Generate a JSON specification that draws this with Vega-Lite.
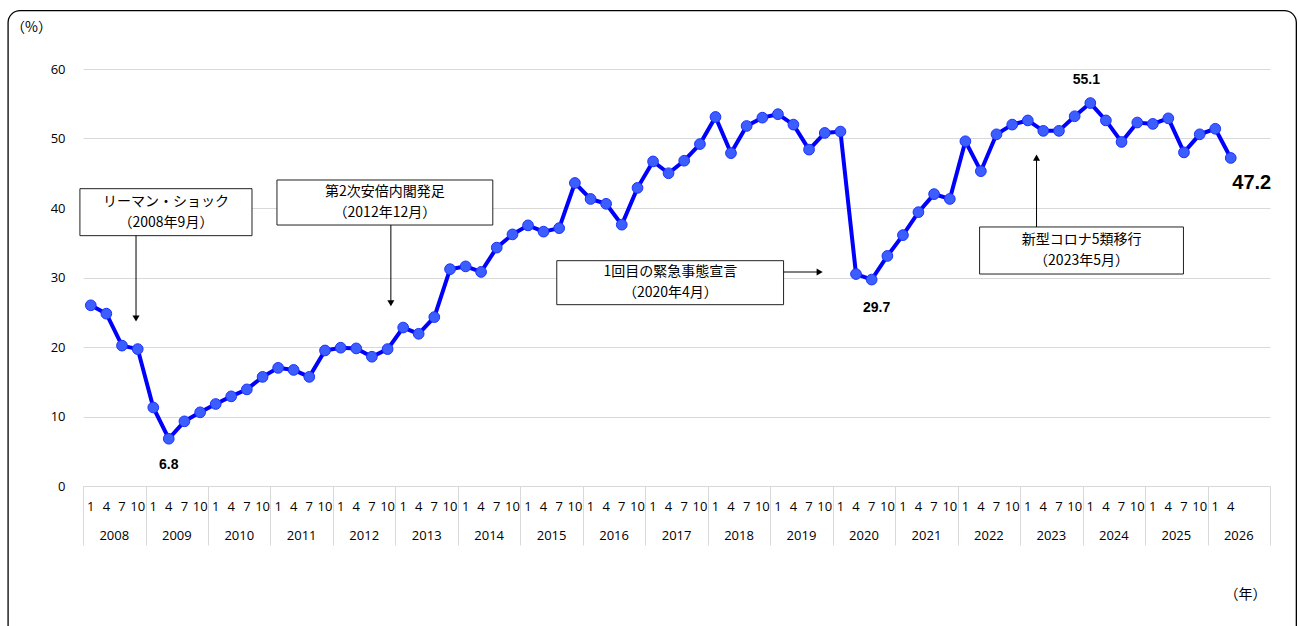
{
  "$schema": "https://vega.github.io/schema/vega-lite/v6.json",
  "width": 1187,
  "height": 417,
  "autosize": {"type": "none"},
  "padding": {"left": 83, "top": 69, "right": 28, "bottom": 140},
  "background": "white",
  "config": {"view": {"stroke": null}, "font": "Open Sans"},
  "datasets": {
    "main": [
      {"d": "2008-01-01", "v": 26.0}, {"d": "2008-04-01", "v": 24.8}, {"d": "2008-07-01", "v": 20.2}, {"d": "2008-10-01", "v": 19.7},
      {"d": "2009-01-01", "v": 11.3}, {"d": "2009-04-01", "v": 6.8}, {"d": "2009-07-01", "v": 9.3}, {"d": "2009-10-01", "v": 10.6},
      {"d": "2010-01-01", "v": 11.8}, {"d": "2010-04-01", "v": 12.9}, {"d": "2010-07-01", "v": 13.9}, {"d": "2010-10-01", "v": 15.7},
      {"d": "2011-01-01", "v": 17.0}, {"d": "2011-04-01", "v": 16.7}, {"d": "2011-07-01", "v": 15.7}, {"d": "2011-10-01", "v": 19.5},
      {"d": "2012-01-01", "v": 19.9}, {"d": "2012-04-01", "v": 19.8}, {"d": "2012-07-01", "v": 18.6}, {"d": "2012-10-01", "v": 19.7},
      {"d": "2013-01-01", "v": 22.8}, {"d": "2013-04-01", "v": 21.9}, {"d": "2013-07-01", "v": 24.3}, {"d": "2013-10-01", "v": 31.2},
      {"d": "2014-01-01", "v": 31.6}, {"d": "2014-04-01", "v": 30.8}, {"d": "2014-07-01", "v": 34.3}, {"d": "2014-10-01", "v": 36.2},
      {"d": "2015-01-01", "v": 37.5}, {"d": "2015-04-01", "v": 36.6}, {"d": "2015-07-01", "v": 37.1}, {"d": "2015-10-01", "v": 43.6},
      {"d": "2016-01-01", "v": 41.3}, {"d": "2016-04-01", "v": 40.6}, {"d": "2016-07-01", "v": 37.6}, {"d": "2016-10-01", "v": 42.9},
      {"d": "2017-01-01", "v": 46.7}, {"d": "2017-04-01", "v": 45.0}, {"d": "2017-07-01", "v": 46.8}, {"d": "2017-10-01", "v": 49.2},
      {"d": "2018-01-01", "v": 53.1}, {"d": "2018-04-01", "v": 47.9}, {"d": "2018-07-01", "v": 51.8}, {"d": "2018-10-01", "v": 53.0},
      {"d": "2019-01-01", "v": 53.5}, {"d": "2019-04-01", "v": 52.0}, {"d": "2019-07-01", "v": 48.4}, {"d": "2019-10-01", "v": 50.8},
      {"d": "2020-01-01", "v": 51.0}, {"d": "2020-04-01", "v": 30.5}, {"d": "2020-07-01", "v": 29.7}, {"d": "2020-10-01", "v": 33.1},
      {"d": "2021-01-01", "v": 36.1}, {"d": "2021-04-01", "v": 39.4}, {"d": "2021-07-01", "v": 42.0}, {"d": "2021-10-01", "v": 41.3},
      {"d": "2022-01-01", "v": 49.6}, {"d": "2022-04-01", "v": 45.3}, {"d": "2022-07-01", "v": 50.6}, {"d": "2022-10-01", "v": 52.0},
      {"d": "2023-01-01", "v": 52.6}, {"d": "2023-04-01", "v": 51.1}, {"d": "2023-07-01", "v": 51.1}, {"d": "2023-10-01", "v": 53.2},
      {"d": "2024-01-01", "v": 55.1}, {"d": "2024-04-01", "v": 52.6}, {"d": "2024-07-01", "v": 49.5}, {"d": "2024-10-01", "v": 52.3},
      {"d": "2025-01-01", "v": 52.1}, {"d": "2025-04-01", "v": 52.9}, {"d": "2025-07-01", "v": 48.0}, {"d": "2025-10-01", "v": 50.6},
      {"d": "2026-01-01", "v": 51.4}, {"d": "2026-04-01", "v": 47.2}
    ],
    "years": [
      {"d": "2008-01-01"}, {"d": "2009-01-01"}, {"d": "2010-01-01"}, {"d": "2011-01-01"}, {"d": "2012-01-01"},
      {"d": "2013-01-01"}, {"d": "2014-01-01"}, {"d": "2015-01-01"}, {"d": "2016-01-01"}, {"d": "2017-01-01"},
      {"d": "2018-01-01"}, {"d": "2019-01-01"}, {"d": "2020-01-01"}, {"d": "2021-01-01"}, {"d": "2022-01-01"},
      {"d": "2023-01-01"}, {"d": "2024-01-01"}, {"d": "2025-01-01"}, {"d": "2026-01-01"}
    ],
    "frame": [{"x1": "2006-10-20", "x2": "2027-06-04", "y1": 68.4, "y2": -22}],
    "boxes": [
      {"x1": "2007-12-14", "x2": "2010-09-15", "y1": 42.78, "y2": 36.02, "xc": "2009-04-30", "yc": 39.4, "t": "リーマン・ショック\n（2008年9月）"},
      {"x1": "2011-02-08", "x2": "2014-07-24", "y1": 44.03, "y2": 37.55, "xc": "2012-10-31", "yc": 40.8, "t": "第2次安倍内閣発足\n（2012年12月）"},
      {"x1": "2015-08-02", "x2": "2019-03-20", "y1": 32.42, "y2": 26.09, "xc": "2017-05-27", "yc": 29.25, "t": "1回目の緊急事態宣言\n（2020年4月）"},
      {"x1": "2022-05-09", "x2": "2025-08-13", "y1": 37.27, "y2": 30.5, "xc": "2023-12-26", "yc": 33.9, "t": "新型コロナ5類移行\n（2023年5月）"}
    ],
    "varrows": [
      {"id": "a1", "x": "2008-11-06", "y1": 36.02, "y2": 24.1},
      {"id": "a2", "x": "2012-12-05", "y1": 37.55, "y2": 26.3},
      {"id": "a4", "x": "2023-04-07", "y1": 37.27, "y2": 47.24}
    ],
    "harrows": [
      {"id": "a3", "x1": "2019-03-20", "x2": "2019-10-17", "y": 30.79}
    ]
  },
  "layer": [
    {
      "data": {"name": "frame"},
      "mark": {"type": "rect", "fill": "transparent", "stroke": "#000000", "strokeWidth": 1.3, "cornerRadius": 12},
      "encoding": {
        "x": {
          "field": "x1", "type": "temporal",
          "scale": {"type": "utc", "domain": [{"year": 2008, "month": 1, "date": 1, "utc": true}, {"year": 2027, "month": 1, "date": 1, "utc": true}]},
          "axis": {
            "orient": "bottom",
            "values": [
              {"year": 2008, "month": 1, "date": 1, "utc": true}, {"year": 2009, "month": 1, "date": 1, "utc": true},
              {"year": 2010, "month": 1, "date": 1, "utc": true}, {"year": 2011, "month": 1, "date": 1, "utc": true},
              {"year": 2012, "month": 1, "date": 1, "utc": true}, {"year": 2013, "month": 1, "date": 1, "utc": true},
              {"year": 2014, "month": 1, "date": 1, "utc": true}, {"year": 2015, "month": 1, "date": 1, "utc": true},
              {"year": 2016, "month": 1, "date": 1, "utc": true}, {"year": 2017, "month": 1, "date": 1, "utc": true},
              {"year": 2018, "month": 1, "date": 1, "utc": true}, {"year": 2019, "month": 1, "date": 1, "utc": true},
              {"year": 2020, "month": 1, "date": 1, "utc": true}, {"year": 2021, "month": 1, "date": 1, "utc": true},
              {"year": 2022, "month": 1, "date": 1, "utc": true}, {"year": 2023, "month": 1, "date": 1, "utc": true},
              {"year": 2024, "month": 1, "date": 1, "utc": true}, {"year": 2025, "month": 1, "date": 1, "utc": true},
              {"year": 2026, "month": 1, "date": 1, "utc": true}, {"year": 2027, "month": 1, "date": 1, "utc": true}
            ],
            "labels": false,
            "ticks": true,
            "tickSize": 59,
            "tickColor": "#d9d9d9",
            "tickWidth": 1,
            "domain": false,
            "grid": false,
            "title": "（年）",
            "titleFont": "Noto Sans CJK JP",
            "titleFontSize": 14,
            "titleFontWeight": "normal",
            "titleColor": "#000000",
            "titleX": 1162,
            "titleY": 108,
            "titleAlign": "center",
            "titleBaseline": "middle"
          }
        },
        "x2": {"field": "x2"},
        "y": {
          "field": "y1", "type": "quantitative",
          "scale": {"domain": [0, 60], "nice": false, "zero": false},
          "axis": {
            "values": [0, 10, 20, 30, 40, 50, 60],
            "grid": true,
            "gridColor": "#d9d9d9",
            "gridWidth": 1,
            "domain": false,
            "ticks": false,
            "labelFontSize": 13,
            "labelColor": "#000000",
            "labelPadding": 18,
            "title": "（%）",
            "titleFont": "Noto Sans CJK JP",
            "titleFontSize": 14,
            "titleFontWeight": "normal",
            "titleColor": "#000000",
            "titleAngle": 0,
            "titleX": -52,
            "titleY": -42,
            "titleAlign": "center",
            "titleBaseline": "middle"
          }
        },
        "y2": {"field": "y2"}
      }
    },
    {
      "data": {"name": "main"},
      "mark": {"type": "line", "color": "#0000ff", "strokeWidth": 4},
      "encoding": {
        "x": {"field": "d", "type": "temporal", "timeUnit": "utcyearquarter", "bandPosition": 0.5, "scale": {"type": "utc"}},
        "y": {"field": "v", "type": "quantitative"}
      }
    },
    {
      "data": {"name": "main"},
      "mark": {"type": "circle", "fill": "#3d5eff", "stroke": "#1a33ff", "strokeWidth": 1, "opacity": 1, "size": 115},
      "encoding": {
        "x": {"field": "d", "type": "temporal", "timeUnit": "utcyearquarter", "bandPosition": 0.5, "scale": {"type": "utc"}},
        "y": {"field": "v", "type": "quantitative"}
      }
    },
    {
      "data": {"name": "main"},
      "mark": {"type": "text", "font": "Open Sans", "fontSize": 13, "color": "#000000", "baseline": "middle", "align": "center", "dy": 21},
      "encoding": {
        "x": {"field": "d", "type": "temporal", "timeUnit": "utcyearquarter", "bandPosition": 0.5, "scale": {"type": "utc"}},
        "y": {"datum": 0, "type": "quantitative"},
        "text": {"field": "d", "type": "temporal", "timeUnit": "utcmonth", "format": "%-m"}
      }
    },
    {
      "data": {"name": "years"},
      "mark": {"type": "text", "font": "Open Sans", "fontSize": 13, "color": "#000000", "baseline": "middle", "align": "center", "dy": 50},
      "encoding": {
        "x": {"field": "d", "type": "temporal", "timeUnit": "utcyear", "bandPosition": 0.5, "scale": {"type": "utc"}},
        "y": {"datum": 0, "type": "quantitative"},
        "text": {"field": "d", "type": "temporal", "timeUnit": "utcyear", "format": "%Y"}
      }
    },
    {
      "data": {"name": "main"},
      "transform": [{"filter": "datum.v == 6.8"}],
      "mark": {"type": "text", "font": "Liberation Sans", "fontWeight": "bold", "fontSize": 14, "color": "#000000", "baseline": "middle", "align": "center", "dy": 26},
      "encoding": {
        "x": {"field": "d", "type": "temporal", "timeUnit": "utcyearquarter", "bandPosition": 0.5, "scale": {"type": "utc"}},
        "y": {"field": "v", "type": "quantitative"},
        "text": {"field": "v", "type": "quantitative", "format": ".1f"}
      }
    },
    {
      "data": {"name": "main"},
      "transform": [{"filter": "datum.v == 29.7"}],
      "mark": {"type": "text", "font": "Liberation Sans", "fontWeight": "bold", "fontSize": 14, "color": "#000000", "baseline": "middle", "align": "center", "dx": 5, "dy": 28},
      "encoding": {
        "x": {"field": "d", "type": "temporal", "timeUnit": "utcyearquarter", "bandPosition": 0.5, "scale": {"type": "utc"}},
        "y": {"field": "v", "type": "quantitative"},
        "text": {"field": "v", "type": "quantitative", "format": ".1f"}
      }
    },
    {
      "data": {"name": "main"},
      "transform": [{"filter": "datum.v == 55.1"}],
      "mark": {"type": "text", "font": "Liberation Sans", "fontWeight": "bold", "fontSize": 14, "color": "#000000", "baseline": "middle", "align": "center", "dx": -4, "dy": -23},
      "encoding": {
        "x": {"field": "d", "type": "temporal", "timeUnit": "utcyearquarter", "bandPosition": 0.5, "scale": {"type": "utc"}},
        "y": {"field": "v", "type": "quantitative"},
        "text": {"field": "v", "type": "quantitative", "format": ".1f"}
      }
    },
    {
      "data": {"name": "main"},
      "transform": [{"filter": "datum.v == 47.2"}],
      "mark": {"type": "text", "font": "Liberation Sans", "fontWeight": "bold", "fontSize": 20, "color": "#000000", "baseline": "middle", "align": "center", "dx": 21, "dy": 25},
      "encoding": {
        "x": {"field": "d", "type": "temporal", "timeUnit": "utcyearquarter", "bandPosition": 0.5, "scale": {"type": "utc"}},
        "y": {"field": "v", "type": "quantitative"},
        "text": {"field": "v", "type": "quantitative", "format": ".1f"}
      }
    },
    {
      "data": {"name": "boxes"},
      "mark": {"type": "rect", "fill": "#ffffff", "stroke": "#222222", "strokeWidth": 1},
      "encoding": {
        "x": {"field": "x1", "type": "temporal", "scale": {"type": "utc"}},
        "x2": {"field": "x2"},
        "y": {"field": "y1", "type": "quantitative"},
        "y2": {"field": "y2"}
      }
    },
    {
      "data": {"name": "boxes"},
      "mark": {"type": "text", "font": "Noto Sans CJK JP", "fontSize": 14, "color": "#000000", "align": "center", "baseline": "middle", "lineBreak": "\n", "lineHeight": 21, "dy": -10.5},
      "encoding": {
        "x": {"field": "xc", "type": "temporal", "scale": {"type": "utc"}},
        "y": {"field": "yc", "type": "quantitative"},
        "text": {"field": "t", "type": "nominal"}
      }
    },
    {
      "data": {"name": "varrows"},
      "mark": {"type": "rule", "color": "#000000", "strokeWidth": 1},
      "encoding": {
        "x": {"field": "x", "type": "temporal", "scale": {"type": "utc"}},
        "y": {"field": "y1", "type": "quantitative"},
        "y2": {"field": "y2"}
      }
    },
    {
      "data": {"name": "varrows"},
      "transform": [{"filter": "datum.id != 'a4'"}],
      "mark": {"type": "point", "shape": "triangle-down", "filled": true, "color": "#000000", "opacity": 1, "size": 50},
      "encoding": {
        "x": {"field": "x", "type": "temporal", "scale": {"type": "utc"}},
        "y": {"field": "y2", "type": "quantitative"}
      }
    },
    {
      "data": {"name": "varrows"},
      "transform": [{"filter": "datum.id == 'a4'"}],
      "mark": {"type": "point", "shape": "triangle-up", "filled": true, "color": "#000000", "opacity": 1, "size": 50},
      "encoding": {
        "x": {"field": "x", "type": "temporal", "scale": {"type": "utc"}},
        "y": {"field": "y2", "type": "quantitative"}
      }
    },
    {
      "data": {"name": "harrows"},
      "mark": {"type": "rule", "color": "#000000", "strokeWidth": 1},
      "encoding": {
        "x": {"field": "x1", "type": "temporal", "scale": {"type": "utc"}},
        "x2": {"field": "x2"},
        "y": {"field": "y", "type": "quantitative"}
      }
    },
    {
      "data": {"name": "harrows"},
      "mark": {"type": "point", "shape": "triangle-right", "filled": true, "color": "#000000", "opacity": 1, "size": 50},
      "encoding": {
        "x": {"field": "x2", "type": "temporal", "scale": {"type": "utc"}},
        "y": {"field": "y", "type": "quantitative"}
      }
    }
  ]
}
